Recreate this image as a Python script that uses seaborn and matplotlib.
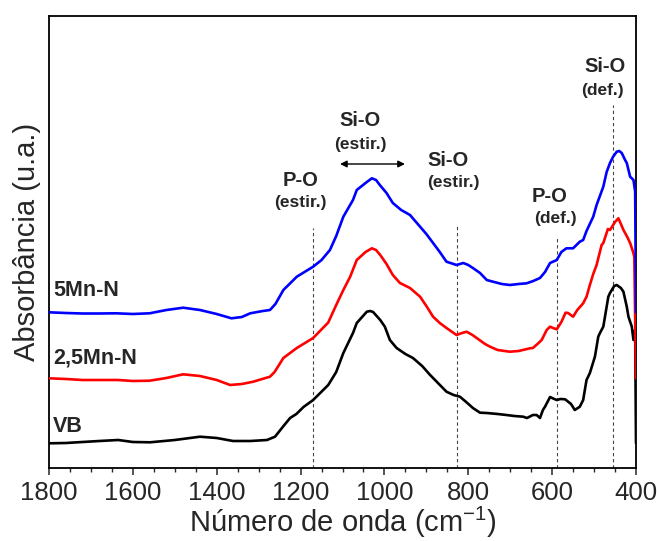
import matplotlib
matplotlib.use("Agg")
import matplotlib.pyplot as plt
from matplotlib.ticker import MultipleLocator
import seaborn as sns
import pandas as pd

# FTIR spectra (wavenumber in cm-1, absorbance in arbitrary units, stacked)
wn_vb = [1800, 1760, 1720, 1680, 1635, 1600, 1559, 1500, 1440, 1400, 1361, 1320,
         1280, 1261, 1242, 1225, 1210, 1193, 1170, 1134, 1115, 1098, 1075, 1066,
         1042, 1034, 1027, 1010, 999, 987, 971, 950, 932, 910, 891, 870, 852, 835,
         820, 805, 789, 772, 756, 730, 709, 690, 669, 660, 646, 637, 629, 622, 617,
         605, 595, 589, 580, 569, 555, 546, 534, 526, 518, 510, 498, 490, 486, 478,
         466, 462, 452, 446, 436, 430, 422, 418, 410, 406, 402, 400]
abs_vb = [0.247, 0.25, 0.26, 0.27, 0.28, 0.26, 0.257, 0.28, 0.313, 0.30, 0.27, 0.27,
          0.28, 0.313, 0.413, 0.50, 0.54, 0.61, 0.68, 0.83, 0.96, 1.15, 1.35, 1.45,
          1.563, 1.57, 1.56, 1.48, 1.413, 1.28, 1.20, 1.14, 1.10, 1.02, 0.93, 0.84,
          0.763, 0.73, 0.713, 0.66, 0.60, 0.553, 0.55, 0.54, 0.53, 0.52, 0.513, 0.50,
          0.53, 0.53, 0.50, 0.58, 0.613, 0.71, 0.69, 0.68, 0.69, 0.687, 0.64, 0.58,
          0.613, 0.68, 0.88, 0.95, 1.113, 1.313, 1.35, 1.413, 1.713, 1.75, 1.82, 1.83,
          1.80, 1.763, 1.613, 1.513, 1.413, 1.28, 1.38, 0.247]

wn_25mn = [1800, 1760, 1720, 1680, 1635, 1600, 1560, 1520, 1480, 1440, 1400, 1368,
           1340, 1313, 1273, 1262, 1241, 1209, 1170, 1134, 1115, 1098, 1082, 1066,
           1045, 1030, 1020, 1010, 995, 980, 963, 939, 915, 900, 884, 868, 852, 828,
           815, 804, 790, 780, 760, 748, 730, 701, 680, 653, 646, 635, 625, 613, 605,
           598, 589, 578, 568, 562, 550, 540, 526, 518, 510, 502, 494, 482, 478, 467,
           462, 450, 442, 436, 430, 422, 414, 407, 404, 400]
abs_25mn = [0.897, 0.89, 0.88, 0.88, 0.88, 0.87, 0.873, 0.90, 0.937, 0.92, 0.88, 0.83,
            0.84, 0.863, 0.913, 0.96, 1.10, 1.20, 1.30, 1.455, 1.63, 1.78, 1.91, 2.08,
            2.16, 2.197, 2.18, 2.13, 2.04, 1.93, 1.85, 1.80, 1.713, 1.62, 1.513, 1.45,
            1.40, 1.33, 1.35, 1.363, 1.33, 1.30, 1.24, 1.213, 1.18, 1.163, 1.17, 1.197,
            1.20, 1.24, 1.28, 1.38, 1.413, 1.40, 1.387, 1.46, 1.553, 1.55, 1.513, 1.58,
            1.647, 1.713, 1.83, 1.94, 2.03, 2.23, 2.25, 2.39, 2.38, 2.46, 2.497, 2.44,
            2.38, 2.32, 2.25, 2.16, 2.113, 0.897]

wn_5mn = [1800, 1760, 1720, 1680, 1640, 1600, 1560, 1520, 1480, 1440, 1400, 1365,
          1340, 1320, 1290, 1273, 1260, 1241, 1209, 1170, 1150, 1130, 1115, 1098,
          1075, 1066, 1042, 1030, 1020, 1011, 995, 980, 960, 939, 915, 900, 884, 868,
          852, 828, 812, 800, 789, 772, 756, 741, 720, 701, 680, 661, 645, 629, 617,
          605, 589, 578, 566, 550, 534, 526, 518, 502, 494, 478, 470, 462, 455, 446,
          440, 434, 426, 422, 414, 406, 402, 400]
abs_5mn = [1.557, 1.55, 1.545, 1.545, 1.547, 1.54, 1.547, 1.58, 1.603, 1.58, 1.54, 1.497,
           1.51, 1.547, 1.57, 1.58, 1.64, 1.78, 1.913, 2.013, 2.08, 2.18, 2.32, 2.513,
           2.68, 2.78, 2.86, 2.897, 2.88, 2.83, 2.75, 2.65, 2.58, 2.53, 2.413, 2.34,
           2.25, 2.16, 2.063, 2.03, 2.05, 2.03, 2.00, 1.95, 1.88, 1.863, 1.84, 1.83,
           1.84, 1.847, 1.87, 1.90, 1.96, 2.05, 2.08, 2.16, 2.197, 2.197, 2.263, 2.28,
           2.37, 2.513, 2.63, 2.813, 2.96, 3.05, 3.11, 3.163, 3.17, 3.15, 3.08, 3.05,
           2.913, 2.88, 2.763, 1.557]

samples = ["VB", "2,5Mn-N", "5Mn-N"]
colors = {"VB": "#000000", "2,5Mn-N": "#ff0000", "5Mn-N": "#0000ff"}

# Band assignments: dashed marker lines (position, top of line)
band_pos = [1170, 827, 588, 455]
band_top = [2.40, 2.44, 2.30, 3.63]

frames = []
for name, wn, ab in [("VB", wn_vb, abs_vb), ("2,5Mn-N", wn_25mn, abs_25mn),
                     ("5Mn-N", wn_5mn, abs_5mn)]:
    frames.append(pd.DataFrame({"wn": wn, "abs": ab, "amostra": name}))
df = pd.concat(frames, ignore_index=True)

sns.set_style("white")
plt.rcParams["font.family"] = ["Liberation Sans", "DejaVu Sans"]
plt.rcParams["mathtext.fontset"] = "custom"
plt.rcParams["mathtext.rm"] = "Liberation Sans"
plt.rcParams["mathtext.default"] = "regular"

fig = plt.figure(figsize=(6.57, 5.41), dpi=100)
ax = fig.add_axes([49 / 657, 73 / 541, 587 / 657, 452 / 541])

for name in samples:
    sns.lineplot(data=df[df["amostra"] == name], x="wn", y="abs", color=colors[name],
                 sort=False, estimator=None, linewidth=1.9, ax=ax, zorder=3)

for x, top in zip(band_pos, band_top):
    ax.plot([x, x], [0, top], color="#444444", linestyle=(0, (3, 2.5)),
            linewidth=0.8, zorder=1)

ax.set_xlim(1800, 400)
ax.set_ylim(0, 4.52)
ax.xaxis.set_major_locator(MultipleLocator(200))
ax.xaxis.set_minor_locator(MultipleLocator(50))
ax.tick_params(axis="x", which="major", direction="out", length=5, width=1.1,
               labelsize=18.5, pad=4, bottom=True)
ax.tick_params(axis="x", which="minor", direction="out", length=3, width=1.0,
               bottom=True)
ax.set_yticks([])
for s in ax.spines.values():
    s.set_linewidth(1.3)
    s.set_color("black")
    s.set_zorder(2)

ax.set_xlabel("Número de onda (cm$^{-1}$)", fontsize=21, labelpad=0)
ax.set_ylabel("Absorbância (u.a.)", fontsize=21, labelpad=6)

# Series labels
lab_kw = dict(fontsize=15.5, fontweight="bold", ha="left", va="center")
ax.text(1790, 1.78, "5Mn-N", **lab_kw)
ax.text(1790, 1.10, "2,5Mn-N", **lab_kw)
ax.text(1790, 0.41, "VB", **lab_kw)

# Band annotations
big = dict(fontsize=14.5, fontweight="bold", ha="center", va="center")
small = dict(fontsize=12.5, fontweight="bold", ha="center", va="center")
ax.text(1201, 2.88, "P-O", **big)
ax.text(1201, 2.65, "(estir.)", **small)
ax.text(1058, 3.48, "Si-O", **big)
ax.text(1058, 3.23, "(estir.)", **small)
ax.annotate("", xy=(951, 3.04), xytext=(1106, 3.04),
            arrowprops=dict(arrowstyle="<|-|>", color="black", lw=1.0,
                            mutation_scale=10, shrinkA=0, shrinkB=0))
ax.text(848, 3.08, "Si-O", **big)
ax.text(836, 2.85, "(estir.)", **small)
ax.text(605, 2.71, "P-O", **big)
ax.text(593, 2.50, "(def.)", **small)
ax.text(474, 4.01, "Si-O", **big)
ax.text(479, 3.78, "(def.)", **small)

fig.savefig("out.png", dpi=100)
